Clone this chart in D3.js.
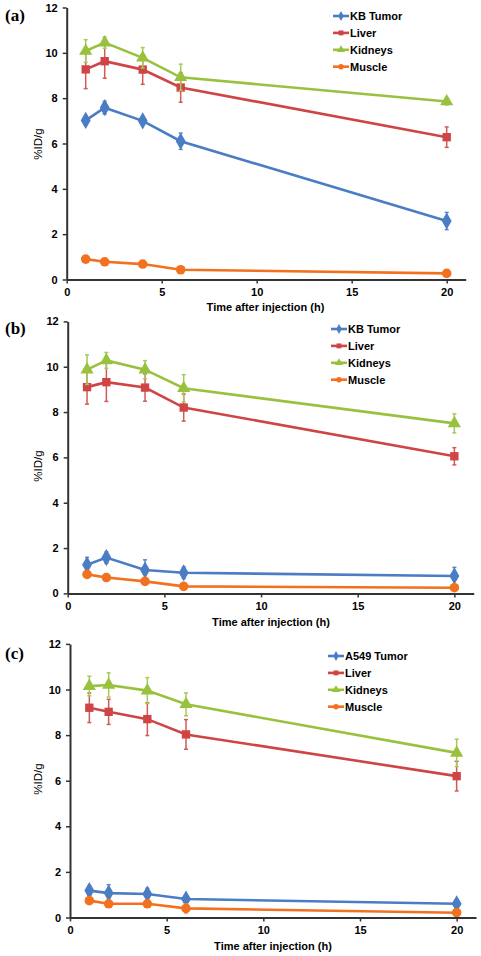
<!DOCTYPE html>
<html><head><meta charset="utf-8">
<script src="https://cdn.jsdelivr.net/npm/d3@7"></script>
<style>body{margin:0;background:#fff}svg{display:block}</style>
</head><body><svg id="c" width="481" height="956"></svg>
<script>
const times = [1, 2, 4, 6, 20];
const xTicks = [0, 5, 10, 15, 20];
const yTicks = [0, 2, 4, 6, 8, 10, 12];
const legendA = ["KB Tumor", "Liver", "Kidneys", "Muscle"];
const legendB = ["KB Tumor", "Liver", "Kidneys", "Muscle"];
const legendC = ["A549 Tumor", "Liver", "Kidneys", "Muscle"];

const tumorA = [7.02, 7.58, 7.0, 6.1, 2.58];
const tumorAErr = [0.2, 0.28, 0.12, 0.36, 0.38];
const liverA = [9.27, 9.63, 9.26, 8.47, 6.28];
const liverAErr = [0.85, 0.75, 0.65, 0.65, 0.45];
const kidneyA = [10.08, 10.45, 9.78, 8.92, 7.85];
const kidneyAErr = [0.5, 0.25, 0.45, 0.58, 0.15];
const muscleA = [0.9, 0.78, 0.68, 0.43, 0.27];
const muscleAErr = [0.05, 0.05, 0.05, 0.05, 0.03];

const tumorB = [1.26, 1.58, 1.03, 0.91, 0.77];
const tumorBErr = [0.33, 0.25, 0.45, 0.25, 0.38];
const liverB = [9.1, 9.32, 9.08, 8.2, 6.05];
const liverBErr = [0.75, 0.85, 0.6, 0.6, 0.38];
const kidneyB = [9.87, 10.28, 9.87, 9.05, 7.5];
const kidneyBErr = [0.65, 0.35, 0.4, 0.6, 0.42];
const muscleB = [0.84, 0.7, 0.53, 0.31, 0.25];
const muscleBErr = [0.08, 0.06, 0.1, 0.08, 0.05];

const tumorC = [1.18, 1.07, 1.03, 0.81, 0.6];
const tumorCErr = [0.2, 0.37, 0.25, 0.1, 0.08];
const liverC = [9.2, 9.02, 8.7, 8.03, 6.2];
const liverCErr = [0.65, 0.55, 0.72, 0.65, 0.65];
const kidneyC = [10.15, 10.2, 9.95, 9.35, 7.22];
const kidneyCErr = [0.43, 0.53, 0.57, 0.5, 0.6];
const muscleC = [0.74, 0.6, 0.6, 0.4, 0.21];
const muscleCErr = [0.1, 0.08, 0.12, 0.2, 0.05];

const colors = ["#4a7dc4", "#cf4545", "#98c23e", "#f2711f"];
const errColors = ["#5a88c8", "#d25a5a", "#a6c95a", "#f28a45"];
const shapes = [d3.symbolDiamond, d3.symbolSquare, d3.symbolTriangle, d3.symbolCircle];
const sizes = [85, 70, 75, 72];
const legSizes = [28, 24, 28, 24];

const panels = [
  {tag: "(a)", legend: legendA, vals: [tumorA, liverA, kidneyA, muscleA], errs: [tumorAErr, liverAErr, kidneyAErr, muscleAErr],
   x0: 66.7, x21: 465.7, y0: 279.5, y12: 7.5, tagY: 21, legX: 333, legY: 16, ylabY: 144, xlabX: 265.5, xlabY: 311},
  {tag: "(b)", legend: legendB, vals: [tumorB, liverB, kidneyB, muscleB], errs: [tumorBErr, liverBErr, kidneyBErr, muscleBErr],
   x0: 67.7, x21: 473.7, y0: 593.4, y12: 321.4, tagY: 334, legX: 331, legY: 329, ylabY: 466, xlabX: 271, xlabY: 626},
  {tag: "(c)", legend: legendC, vals: [tumorC, liverC, kidneyC, muscleC], errs: [tumorCErr, liverCErr, kidneyCErr, muscleCErr],
   x0: 70, x21: 476, y0: 917.5, y12: 643.9, tagY: 659, legX: 328, legY: 656, ylabY: 779, xlabX: 273, xlabY: 950}
];

const svg = d3.select("#c");
const font = "Liberation Sans, Arial, sans-serif";

panels.forEach(p => {
  const g = svg.append("g");
  const x = d3.scaleLinear().domain([0, 21]).range([p.x0, p.x21]);
  const y = d3.scaleLinear().domain([0, 12]).range([p.y0, p.y12]);

  p.vals.forEach((vals, si) => {
    const data = times.map((t, i) => ({t, v: vals[i], e: p.errs[si][i]}));
    g.append("path").datum(data)
      .attr("fill", "none").attr("stroke", colors[si]).attr("stroke-width", 2.6)
      .attr("d", d3.line().x(d => x(d.t)).y(d => y(d.v)));
    const eb = g.append("g").attr("stroke", errColors[si]).attr("stroke-width", 1.5);
    data.forEach(d => {
      eb.append("line").attr("x1", x(d.t)).attr("x2", x(d.t)).attr("y1", y(d.v - d.e)).attr("y2", y(d.v + d.e));
      eb.append("line").attr("x1", x(d.t) - 2).attr("x2", x(d.t) + 2).attr("y1", y(d.v - d.e)).attr("y2", y(d.v - d.e));
      eb.append("line").attr("x1", x(d.t) - 2).attr("x2", x(d.t) + 2).attr("y1", y(d.v + d.e)).attr("y2", y(d.v + d.e));
    });
    g.append("g").selectAll("path").data(data).join("path")
      .attr("fill", colors[si])
      .attr("transform", d => `translate(${x(d.t)},${y(d.v)})`)
      .attr("d", d3.symbol().type(shapes[si]).size(sizes[si]));
  });

  const ax = g.append("g").attr("transform", `translate(0,${p.y0})`)
    .call(d3.axisBottom(x).tickValues(xTicks).tickSize(4).tickSizeOuter(0).tickPadding(5));
  const ay = g.append("g").attr("transform", `translate(${p.x0},0)`)
    .call(d3.axisLeft(y).tickValues(yTicks).tickSize(4).tickSizeOuter(0).tickPadding(5));
  [ax, ay].forEach(a => {
    a.select(".domain").attr("stroke", "#333").attr("stroke-width", 2);
    a.selectAll(".tick line").attr("stroke", "#333").attr("stroke-width", 1.5);
    a.selectAll(".tick text").attr("fill", "#000").attr("font-family", font).attr("font-size", 11).attr("font-weight", "bold");
  });

  g.append("text").attr("x", 5).attr("y", p.tagY).text(p.tag)
    .attr("font-family", "Liberation Serif, Times New Roman, serif").attr("font-size", 17).attr("font-weight", "bold");
  g.append("text").attr("transform", `translate(42,${p.ylabY}) rotate(-90)`).attr("text-anchor", "middle")
    .attr("font-family", font).attr("font-size", 11.5).text("%ID/g");
  g.append("text").attr("x", p.xlabX).attr("y", p.xlabY).attr("text-anchor", "middle")
    .attr("font-family", font).attr("font-size", 11).attr("font-weight", "bold").text("Time after injection (h)");

  p.legend.forEach((name, i) => {
    const ly = p.legY + i * 16.9;
    g.append("line").attr("x1", p.legX).attr("x2", p.legX + 16).attr("y1", ly).attr("y2", ly)
      .attr("stroke", colors[i]).attr("stroke-width", 2.6);
    g.append("path").attr("transform", `translate(${p.legX + 8},${ly})`)
      .attr("fill", colors[i]).attr("d", d3.symbol().type(shapes[i]).size(legSizes[i]));
    g.append("text").attr("x", p.legX + 17).attr("y", ly).attr("dy", "0.36em")
      .attr("font-family", font).attr("font-size", 11).attr("font-weight", "bold").text(name);
  });
});
</script></body></html>
